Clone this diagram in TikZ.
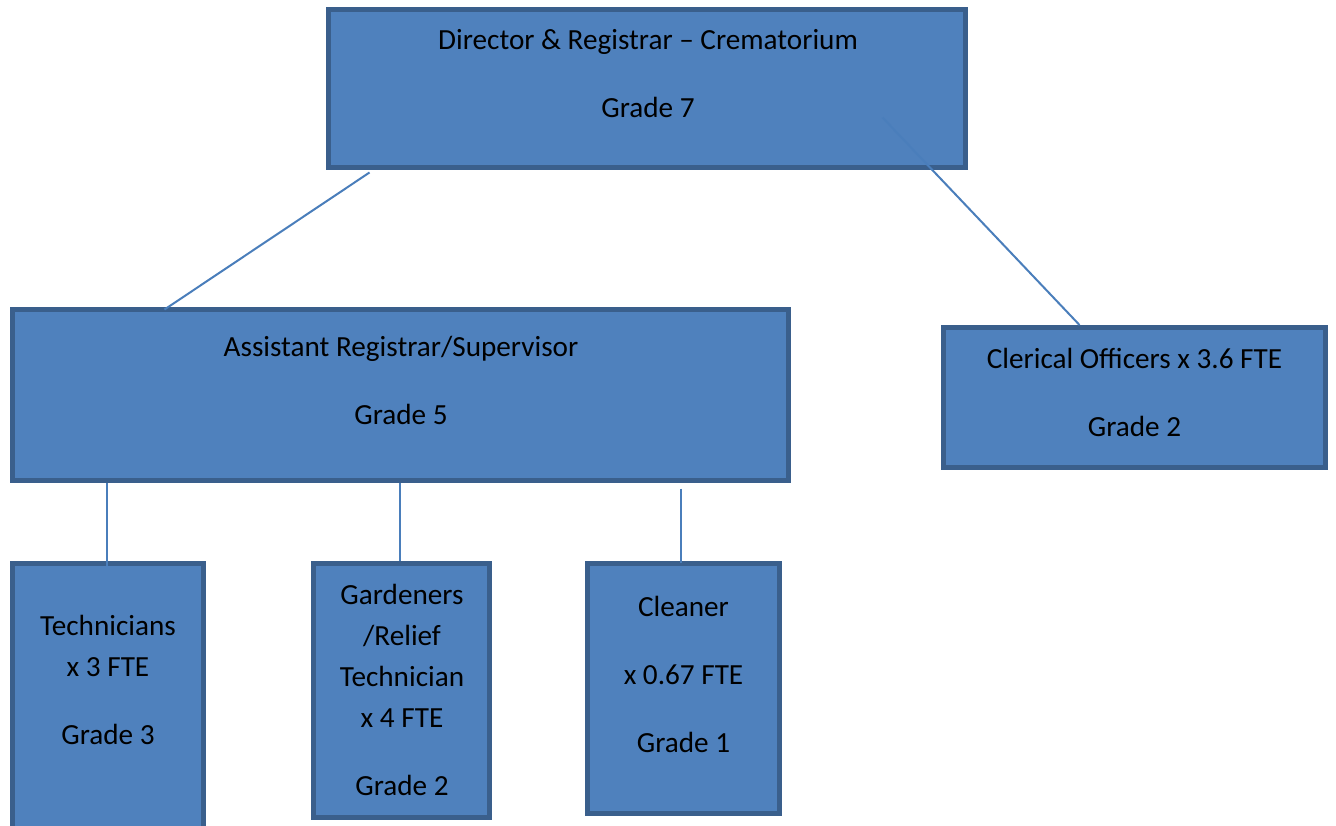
\documentclass[tikz,border=0pt]{standalone}
\usepackage{fontspec}
\setmainfont{Carlito}
\usetikzlibrary{calc}
\definecolor{postfill}{HTML}{4F81BD}
\definecolor{postedge}{HTML}{3A5F8C}
\definecolor{linkcol}{HTML}{4A7EBB}
\newcommand{\gap}{\\[13.5pt]}

\begin{document}
\begin{tikzpicture}[x=0.5pt, y=-0.5pt,
		post/.style={draw=postedge, fill=postfill, line width=2.5pt, rectangle, inner sep=0pt},
		link/.style={draw=linkcol, line width=1pt},
		txt/.style={align=center, inner sep=0pt, font=\fontsize{14.6}{20.5}\selectfont}]

	\useasboundingbox (0,0) rectangle (1336,825);

	% boxes
	\node[post, minimum width=318.5pt, minimum height=79pt] (dir) at (647,88.5) {};
	\node[post, minimum width=388pt, minimum height=85.5pt] (asst) at (400.5,395) {};
	\node[post, minimum width=191pt, minimum height=70pt] (cler) at (1134.5,397.5) {};
	\node[post, minimum width=95.5pt, minimum height=150pt] (tech) at (108,713.5) {};
	\node[post, minimum width=88pt, minimum height=127pt] (gard) at (401.5,690.5) {};
	\node[post, minimum width=96pt, minimum height=125pt] (clean) at (683.5,688.5) {};

	% texts
	\node[txt] at (648,73.5) {Director \& Registrar – Crematorium\gap Grade 7};
	\node[txt] at (401,380.5) {Assistant Registrar/Supervisor\gap Grade 5};
	\node[txt] at (1134.5,392.5) {Clerical Officers x 3.6 FTE\gap Grade 2};
	\node[txt] at (108,680) {Technicians\\x 3 FTE\gap Grade 3};
	\node[txt] at (402,690) {Gardeners\\/Relief\\Technician\\x 4 FTE\gap Grade 2};
	\node[txt] at (683.5,674) {Cleaner\gap x 0.67 FTE\gap Grade 1};

	% connectors
	\draw[link] ($(dir.south west)+(43.5,2.5)$) -- ($(asst.north west)+(154.5,2.5)$);
	\draw[link] ($(dir.south east)+(-85.5,-52.5)$) -- ($(cler.north west)+(138.5,0)$);
	\draw[link] ($(tech.north |- asst.south)+(-1,0)$) -- ($(tech.north)+(-1,4.5)$);
	\draw[link] ($(asst.south)+(-0.5,0)$) -- ($(asst.south |- gard.north)+(-0.5,0)$);
	\draw[link] ($(clean.north |- asst.south)+(-2.5,5.5)$) -- ($(clean.north)+(-2.5,1.5)$);
\end{tikzpicture}
\end{document}
